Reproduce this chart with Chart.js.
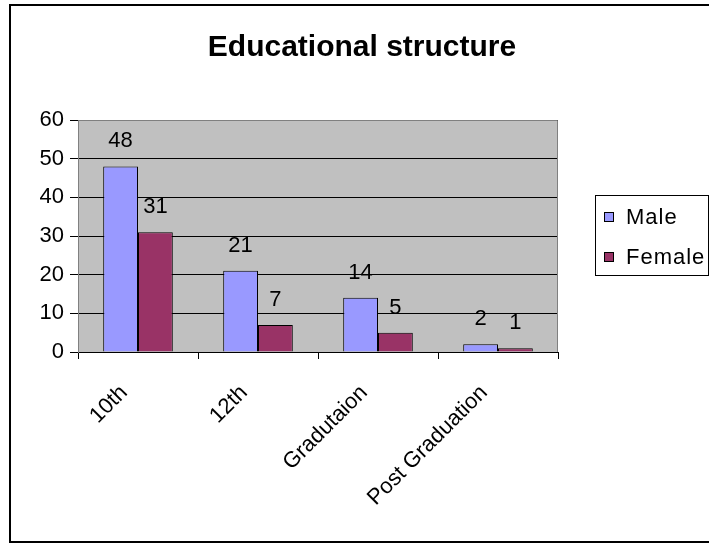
<!DOCTYPE html>
<html>
<head>
<meta charset="utf-8">
<script src="https://cdn.jsdelivr.net/npm/chart.js@4/dist/chart.umd.min.js"></script>
<style>
  html, body { margin: 0; padding: 0; background: #fff; }
  canvas { display: block; }
</style>
</head>
<body>
<canvas id="eduChart" width="709" height="544"></canvas>
<script>
const categories = ['10th', '12th', 'Gradutaion', 'Post Graduation'];
const maleValues = [48, 21, 14, 2];
const femaleValues = [31, 7, 5, 1];
const seriesNames = ['Male', 'Female'];
const yTicks = [0, 10, 20, 30, 40, 50, 60];

const colors = {
    male: '#9999ff',
    female: '#993366',
    plotBg: '#c0c0c0',
    plotBorder: '#808080',
    ink: '#000000'
};
const fontFamily = 'Arial, "Liberation Sans", sans-serif';
const textSize = 22;
const spacing = '1px';

// frame, plot background, title, data labels, legend box
const excelLook = {
    id: 'excelLook',
    beforeInit(chart) {
        chart.ctx.letterSpacing = spacing;
    },
    beforeDraw(chart) {
        const { ctx, chartArea: a } = chart;
        ctx.save();
        ctx.fillStyle = '#fff';
        ctx.fillRect(0, 0, chart.width, chart.height);
        ctx.fillStyle = colors.plotBg;
        ctx.fillRect(a.left, a.top, a.right - a.left, a.bottom - a.top);
        ctx.fillStyle = colors.ink;
        ctx.fillRect(9, 4, 700, 2);
        ctx.fillRect(9, 4, 2, 539);
        ctx.fillRect(9, 541, 700, 2);
        ctx.restore();
    },
    beforeDatasetsDraw(chart) {
        const { ctx, chartArea: a } = chart;
        ctx.save();
        ctx.strokeStyle = colors.plotBorder;
        ctx.lineWidth = 1;
        ctx.beginPath();
        ctx.moveTo(a.left, a.top + 0.5);
        ctx.lineTo(a.right - 0.5, a.top + 0.5);
        ctx.lineTo(a.right - 0.5, a.bottom);
        ctx.stroke();
        ctx.restore();
    },
    afterDatasetsDraw(chart) {
        const { ctx } = chart;
        ctx.save();
        ctx.fillStyle = colors.ink;
        ctx.font = textSize + 'px ' + fontFamily;
        ctx.textAlign = 'center';
        ctx.textBaseline = 'alphabetic';
        chart.data.datasets.forEach((ds, i) => {
            chart.getDatasetMeta(i).data.forEach((bar, j) => {
                ctx.fillText(String(ds.data[j]), bar.x, bar.y - 19);
            });
        });
        ctx.restore();
    },
    afterDraw(chart) {
        const { ctx } = chart;
        ctx.save();
        ctx.letterSpacing = '0px';
        ctx.fillStyle = colors.ink;
        ctx.font = 'bold 30px ' + fontFamily;
        ctx.textAlign = 'center';
        ctx.textBaseline = 'middle';
        ctx.fillText('Educational structure', 362, 48);

        // legend
        ctx.letterSpacing = spacing;
        ctx.strokeStyle = colors.ink;
        ctx.lineWidth = 1;
        ctx.strokeRect(595.5, 195.5, 113, 80);
        ctx.font = textSize + 'px ' + fontFamily;
        ctx.textAlign = 'left';
        chart.data.datasets.forEach((ds, i) => {
            const y = 217 + i * 40;
            ctx.fillStyle = ds.backgroundColor;
            ctx.fillRect(604, y - 5, 10, 10);
            ctx.strokeRect(604.5, y - 4.5, 9, 9);
            ctx.fillStyle = colors.ink;
            ctx.fillText(ds.label, 626, y + 1);
        });
        ctx.restore();
    }
};

const ctx = document.getElementById('eduChart').getContext('2d');
new Chart(ctx, {
    type: 'bar',
    data: {
        labels: categories,
        datasets: [
            {
                label: seriesNames[0],
                data: maleValues,
                backgroundColor: colors.male,
                borderColor: colors.ink,
                borderWidth: 1
            },
            {
                label: seriesNames[1],
                data: femaleValues,
                backgroundColor: colors.female,
                borderColor: colors.ink,
                borderWidth: 1
            }
        ]
    },
    options: {
        responsive: false,
        animation: false,
        devicePixelRatio: 1,
        categoryPercentage: 0.58,
        barPercentage: 1,
        layout: { padding: { left: 0, right: 151, top: 120, bottom: 0 } },
        plugins: {
            legend: { display: false },
            title: { display: false },
            tooltip: { enabled: false }
        },
        scales: {
            x: {
                grid: {
                    offset: true,
                    drawOnChartArea: false,
                    tickLength: 7,
                    color: colors.ink
                },
                border: { color: colors.ink, width: 1 },
                ticks: {
                    autoSkip: false,
                    maxRotation: 45,
                    minRotation: 45,
                    color: colors.ink,
                    font: { family: fontFamily, size: textSize },
                    padding: 21,
                    labelOffset: -14
                },
                afterFit(scale) { scale.height = 192; }
            },
            y: {
                min: 0,
                max: 60,
                afterBuildTicks(scale) {
                    scale.ticks = yTicks.map(v => ({ value: v }));
                },
                grid: {
                    color: colors.ink,
                    lineWidth: 1,
                    tickLength: 8
                },
                border: { color: colors.plotBorder, width: 1 },
                ticks: {
                    color: colors.ink,
                    font: { family: fontFamily, size: textSize },
                    padding: 6
                },
                afterFit(scale) { scale.width = 78; }
            }
        }
    },
    plugins: [excelLook]
});
</script>
</body>
</html>
